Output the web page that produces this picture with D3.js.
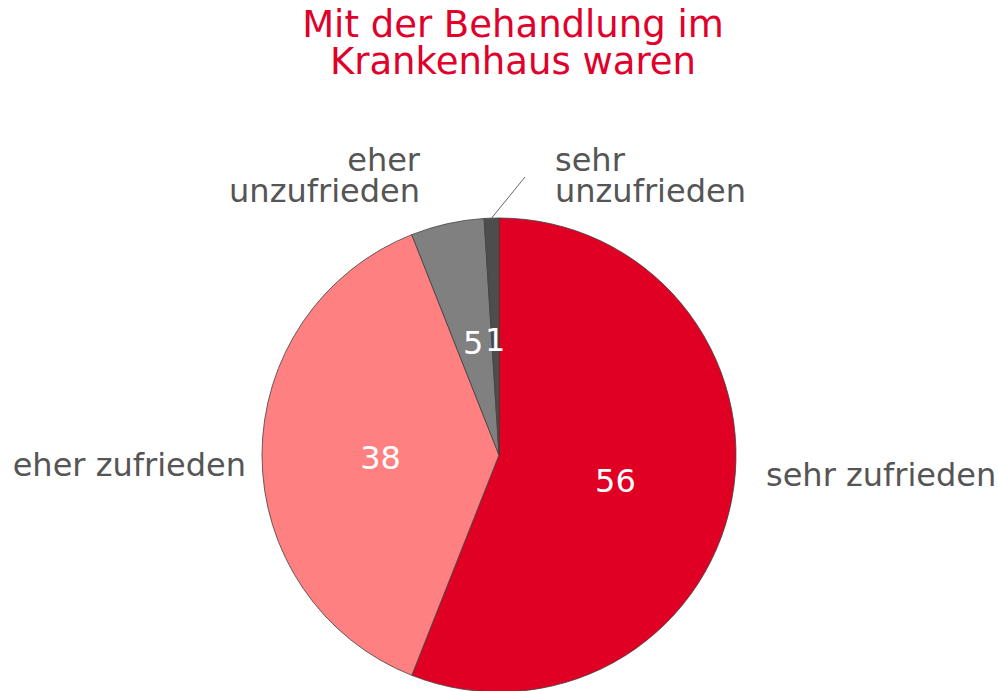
<!DOCTYPE html>
<html><head><meta charset="utf-8">
<script src="https://cdn.jsdelivr.net/npm/d3@7"></script>
<style>html,body{margin:0;padding:0;background:#fff;}svg{display:block;}</style>
</head><body>
<script>
const categories = ["sehr zufrieden", "eher zufrieden", "eher unzufrieden", "sehr unzufrieden"];
const values = [56, 38, 5, 1];
const colors = ["#DF0024", "#FF8080", "#808080", "#4D4D4D"];
const titleLines = ["Mit der Behandlung im", "Krankenhaus waren"];

const W = 998, H = 691;
const cx = 499, cy = 455, r = 237;
const font = "'DejaVu Sans', Verdana, sans-serif";

const svg = d3.select("body").append("svg").attr("width", W).attr("height", H);

svg.append("g").selectAll("text").data(titleLines).join("text")
  .attr("x", 513).attr("y", (d, i) => 37 + i * 37)
  .attr("text-anchor", "middle")
  .attr("font-family", font).attr("font-size", 37)
  .attr("fill", "#E0002A").text(d => d);

const data = categories.map((c, i) => ({ cat: c, value: values[i], color: colors[i] }));
const pie = d3.pie().value(d => d.value).sort(null).startAngle(0).endAngle(2 * Math.PI);
const arcs = pie(data);
const arc = d3.arc().innerRadius(0).outerRadius(r);

const g = svg.append("g").attr("transform", `translate(${cx},${cy})`);
g.selectAll("path").data(arcs).join("path")
  .attr("d", arc).attr("fill", d => d.data.color)
  .attr("stroke", "#404040").attr("stroke-width", 0.8);

g.selectAll("text.val").data(arcs).join("text").attr("class", "val")
  .attr("x", d => arc.centroid(d)[0]).attr("y", d => arc.centroid(d)[1])
  .attr("dy", "0.45em").attr("text-anchor", "middle")
  .attr("font-family", font).attr("font-size", 32).attr("fill", "#fff")
  .text(d => d.data.value);

// outer labels (layout relative to pie)
const labelLayout = [
  { dx: r + 30, dy: 20, anchor: "start", lines: ["sehr zufrieden"] },
  { dx: -r - 16, dy: 10, anchor: "end", lines: ["eher zufrieden"] },
  { dx: -79, dy: -295, anchor: "end", lines: ["eher", "unzufrieden"] },
  { dx: 56, dy: -295, anchor: "start", lines: ["sehr", "unzufrieden"] }
];
arcs.forEach((a, i) => {
  const L = labelLayout[i];
  const t = g.append("text").attr("font-family", font).attr("font-size", 32)
    .attr("fill", "#555555").attr("text-anchor", L.anchor);
  L.lines.forEach((ln, j) => {
    t.append("tspan").attr("x", L.dx).attr("y", L.dy + j * 31)
      .attr("dy", "0.35em").text(ln);
  });
});

// leader line for smallest slice
const last = arcs[3];
const mid = (last.startAngle + last.endAngle) / 2;
const p0 = [Math.sin(mid) * r, -Math.cos(mid) * r];
g.append("line").attr("x1", p0[0]).attr("y1", p0[1])
  .attr("x2", 26).attr("y2", -278)
  .attr("stroke", "#404040").attr("stroke-width", 0.8);
</script>
</body></html>
